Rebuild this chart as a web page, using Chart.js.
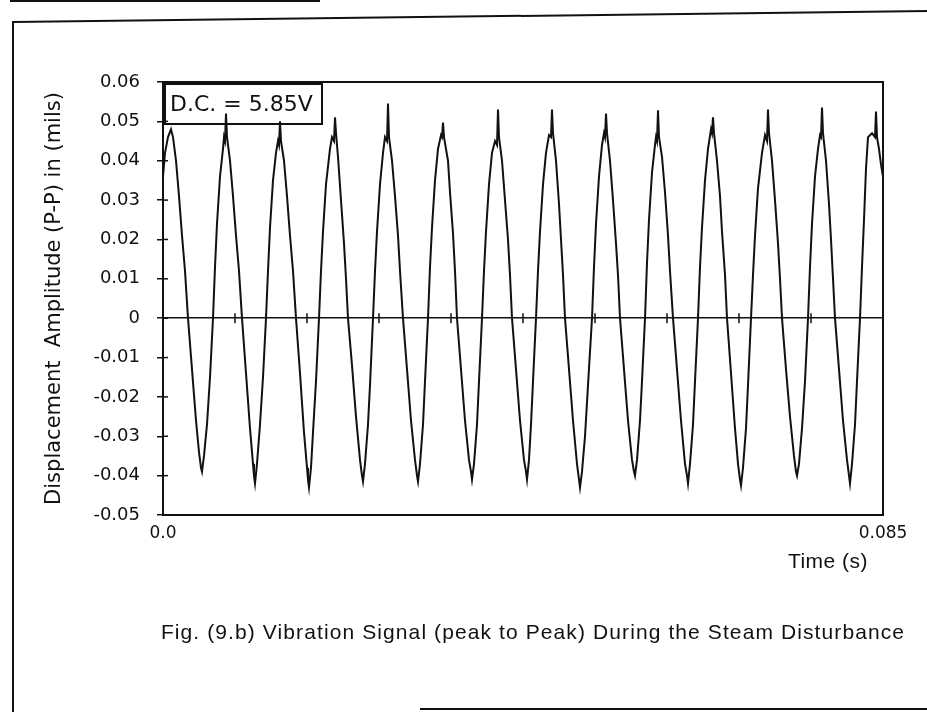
<!DOCTYPE html>
<html>
<head>
<meta charset="utf-8">
<script src="https://cdn.jsdelivr.net/npm/chart.js@4.4.0/dist/chart.umd.min.js"></script>
<style>
  html, body { margin: 0; padding: 0; background: #fff; }
  #page { position: relative; width: 927px; height: 712px; overflow: hidden; }
  #chart { position: absolute; left: 0; top: 0; }
  .rule { position: absolute; background: #111; }
</style>
</head>
<body>
<div id="page">
  <canvas id="chart" width="927" height="712"></canvas>
  <!-- page frame of the scanned figure -->
  <div class="rule" style="left:10px;top:0px;width:310px;height:2px"></div>
  <div class="rule" style="left:13px;top:21px;width:916px;height:2px;transform:rotate(-0.69deg);transform-origin:0 0"></div>
  <div class="rule" style="left:12px;top:21px;width:2px;height:700px"></div>
  <div class="rule" style="left:420px;top:708px;width:507px;height:2px"></div>
</div>

<script>
// time in milliseconds
const timeMs = [
  0, 0.236, 0.590, 0.944, 1.181,
  1.535, 1.889, 2.243, 2.597, 2.951,
  3.424, 3.896, 4.250, 4.486, 4.604,
  4.840, 5.194, 5.549, 5.903, 6.139, 6.375, 6.729, 7.083, 7.201, 7.319, 7.438, 7.556,
  7.910, 8.264, 8.618, 8.972, 9.326, 9.799, 10.271, 10.625, 10.743, 10.861,
  11.097, 11.451, 11.806, 12.160, 12.396, 12.632, 12.986, 13.340, 13.576, 13.694, 13.813, 13.931,
  14.285, 14.639, 14.993, 15.347, 15.701, 16.174, 16.646, 17.000, 17.118, 17.236,
  17.472, 17.708, 18.063, 18.417, 18.653, 18.889, 19.243, 19.715, 19.951, 20.188, 20.306, 20.424,
  20.660, 21.014, 21.368, 21.604, 21.840, 22.313, 22.785, 23.257, 23.493, 23.611,
  23.847, 24.201, 24.438, 24.792, 25.028, 25.264, 25.618, 25.972, 26.208, 26.445, 26.563, 26.681,
  27.035, 27.389, 27.743, 27.979, 28.333, 28.806, 29.278, 29.750, 29.986, 30.104,
  30.340, 30.695, 30.931, 31.285, 31.521, 31.757, 32.111, 32.465, 32.820, 32.938, 33.056, 33.174,
  33.646, 33.882, 34.236, 34.472, 34.708, 35.181, 35.653, 36.125, 36.361, 36.479,
  36.715, 37.070, 37.306, 37.660, 37.896, 38.132, 38.486, 38.840, 39.195, 39.431, 39.549, 39.667,
  40.021, 40.375, 40.729, 40.965, 41.202, 41.674, 42.146, 42.618, 42.854, 42.972,
  43.208, 43.445, 43.681, 44.035, 44.271, 44.507, 44.861, 45.215, 45.570, 45.806, 45.924, 46.042,
  46.396, 46.750, 46.986, 47.222, 47.459, 47.931, 48.403, 48.875, 49.111, 49.229,
  49.465, 49.820, 50.174, 50.646, 50.882, 51.118, 51.472, 51.827, 52.063, 52.181, 52.299, 52.417,
  52.771, 53.125, 53.479, 53.715, 53.952, 54.424, 54.896, 55.368, 55.604, 55.722,
  55.959, 56.313, 56.549, 56.903, 57.139, 57.375, 57.729, 58.084, 58.202, 58.320, 58.438, 58.556,
  58.910, 59.264, 59.618, 59.854, 60.209, 60.681, 61.153, 61.625, 61.861, 61.979,
  62.216, 62.570, 62.806, 63.160, 63.396, 63.632, 63.986, 64.341, 64.695, 64.813, 64.931, 65.049,
  65.403, 65.757, 65.993, 66.347, 66.584, 67.056, 67.528, 67.882, 68.118, 68.236,
  68.472, 68.827, 69.063, 69.417, 69.653, 69.889, 70.243, 70.716, 71.070, 71.306, 71.424, 71.542,
  71.896, 72.250, 72.604, 72.841, 73.077, 73.549, 74.021, 74.493, 74.729, 74.848,
  75.084, 75.438, 75.792, 76.146, 76.382, 76.618, 76.973, 77.327, 77.563, 77.681, 77.799, 77.917,
  78.271, 78.625, 78.861, 79.098, 79.334, 79.806, 80.278, 80.750, 80.986, 81.104,
  81.341, 81.695, 81.931, 82.285, 82.521, 82.757, 82.993, 83.229, 83.702, 84.056, 84.174, 84.292, 84.528, 84.764, 85.000
];

// displacement amplitude (mils)
const amplitude = [
  0.036, 0.042, 0.046, 0.048, 0.046,
  0.040, 0.031, 0.021, 0.012, 0.000,
  -0.013, -0.026, -0.034, -0.038, -0.039,
  -0.035, -0.027, -0.015, 0.000, 0.013, 0.024, 0.036, 0.043, 0.046, 0.045, 0.052, 0.046,
  0.040, 0.031, 0.021, 0.012, 0.000, -0.014, -0.028, -0.037, -0.040, -0.042,
  -0.037, -0.027, -0.015, 0.000, 0.012, 0.023, 0.035, 0.042, 0.045, 0.044, 0.050, 0.045,
  0.040, 0.031, 0.021, 0.012, 0.000, -0.014, -0.029, -0.038, -0.041, -0.043,
  -0.038, -0.029, -0.016, 0.000, 0.012, 0.022, 0.034, 0.043, 0.046, 0.045, 0.051, 0.047,
  0.041, 0.030, 0.019, 0.010, 0.000, -0.012, -0.025, -0.036, -0.040, -0.0415,
  -0.037, -0.027, -0.017, 0.000, 0.012, 0.022, 0.034, 0.042, 0.046, 0.045, 0.0545, 0.046,
  0.040, 0.031, 0.021, 0.012, 0.000, -0.013, -0.026, -0.036, -0.040, -0.0415,
  -0.037, -0.027, -0.016, 0.000, 0.013, 0.023, 0.035, 0.043, 0.0465, 0.046, 0.0497, 0.046,
  0.040, 0.032, 0.0215, 0.012, 0.000, -0.013, -0.026, -0.036, -0.039, -0.041,
  -0.037, -0.027, -0.016, 0.000, 0.012, 0.022, 0.034, 0.042, 0.045, 0.044, 0.053, 0.046,
  0.040, 0.030, 0.020, 0.011, 0.000, -0.013, -0.026, -0.036, -0.039, -0.041,
  -0.036, -0.027, -0.016, 0.000, 0.012, 0.022, 0.034, 0.042, 0.0465, 0.046, 0.053, 0.047,
  0.040, 0.029, 0.020, 0.011, 0.000, -0.013, -0.026, -0.037, -0.041, -0.043,
  -0.039, -0.030, -0.017, 0.000, 0.013, 0.024, 0.036, 0.044, 0.047, 0.046, 0.052, 0.047,
  0.040, 0.030, 0.019, 0.011, 0.000, -0.013, -0.026, -0.036, -0.039, -0.040,
  -0.036, -0.026, -0.016, 0.000, 0.014, 0.025, 0.037, 0.044, 0.046, 0.045, 0.0528, 0.046,
  0.041, 0.032, 0.021, 0.012, 0.000, -0.013, -0.026, -0.037, -0.040, -0.042,
  -0.037, -0.027, -0.016, 0.000, 0.013, 0.023, 0.035, 0.043, 0.048, 0.047, 0.051, 0.047,
  0.040, 0.031, 0.022, 0.011, 0.000, -0.014, -0.028, -0.037, -0.041, -0.0425,
  -0.038, -0.028, -0.017, 0.000, 0.011, 0.021, 0.033, 0.042, 0.0465, 0.045, 0.053, 0.047,
  0.040, 0.030, 0.019, 0.010, 0.000, -0.013, -0.025, -0.035, -0.039, -0.040,
  -0.037, -0.028, -0.016, 0.000, 0.013, 0.024, 0.036, 0.043, 0.0465, 0.046, 0.0535, 0.047,
  0.040, 0.029, 0.020, 0.010, 0.000, -0.013, -0.026, -0.036, -0.040, -0.042,
  -0.037, -0.027, -0.016, 0.000, 0.013, 0.025, 0.038, 0.046, 0.047, 0.046, 0.0525, 0.046, 0.043, 0.039, 0.036
];

const xTickLabels = ['0.0', '0.085'];
const xTitle = 'Time (s)';
const yTitle = 'Displacement  Amplitude (P-P) in (mils)';
const dcLabel = 'D.C. = 5.85V';
const caption = 'Fig. (9.b) Vibration Signal (peak to Peak) During the Steam Disturbance';

const points = timeMs.map((t, i) => ({x: t / 1000, y: amplitude[i]}));

const ink = '#111';

// frame, zero-line ticks, D.C. box and the figure texts
const figurePlugin = {
  id: 'figure',
  beforeDatasetsDraw(chart) {
    const {ctx, chartArea: a, scales: {x, y}} = chart;
    ctx.save();
    ctx.strokeStyle = ink;
    ctx.lineWidth = 2;
    ctx.strokeRect(a.left, a.top, a.right - a.left, a.bottom - a.top);

    ctx.lineWidth = 1.5;
    y.ticks.forEach(t => {
      const py = y.getPixelForValue(t.value);
      ctx.beginPath();
      ctx.moveTo(a.left, py);
      ctx.lineTo(a.left + 5, py);
      ctx.stroke();
    });
    const y0 = y.getPixelForValue(0);
    x.ticks.forEach((t, i) => {
      if (i === 0) return;
      const px = x.getPixelForValue(t.value);
      ctx.beginPath();
      ctx.moveTo(px, y0 - 5);
      ctx.lineTo(px, y0 + 5);
      ctx.stroke();
    });

    ctx.lineWidth = 2;
    ctx.strokeRect(a.left + 2, a.top + 2, 157, 40);
    ctx.fillStyle = ink;
    ctx.font = '22px "DejaVu Sans"';
    ctx.textAlign = 'left';
    ctx.textBaseline = 'middle';
    ctx.fillText(dcLabel, a.left + 7, a.top + 23);
    ctx.restore();
  },
  afterDraw(chart) {
    const {ctx, chartArea: a} = chart;
    ctx.save();
    ctx.fillStyle = ink;
    ctx.font = '21px "Liberation Sans"';
    ctx.textAlign = 'center';
    ctx.textBaseline = 'middle';
    ctx.letterSpacing = '0.5px';
    ctx.fillText(xTitle, a.right - 55, a.bottom + 47);
    ctx.letterSpacing = '1.1px';
    ctx.fillText(caption, (a.left + a.right) / 2 + 10, a.bottom + 118);
    ctx.restore();
  }
};

new Chart(document.getElementById('chart'), {
  type: 'line',
  data: {
    datasets: [{
      data: points,
      borderColor: ink,
      borderWidth: 2,
      pointRadius: 0,
      tension: 0,
      fill: false
    }]
  },
  options: {
    responsive: false,
    animation: false,
    layout: {padding: {left: 0, top: 82, right: 44, bottom: 0}},
    plugins: {
      legend: {display: false},
      tooltip: {enabled: false}
    },
    scales: {
      x: {
        type: 'linear',
        min: 0,
        max: 0.085,
        afterFit(scale) { scale.height = 197; },
        ticks: {
          stepSize: 0.0085,
          autoSkip: false,
          maxRotation: 0,
          padding: 8,
          color: ink,
          font: {family: 'DejaVu Sans', size: 17},
          callback: (v, i, ticks) => i === 0 ? xTickLabels[0] : (i === ticks.length - 1 ? xTickLabels[1] : '')
        },
        grid: {display: false, drawTicks: false},
        border: {display: true, color: ink, width: 2}
      },
      y: {
        min: -0.05,
        max: 0.06,
        afterFit(scale) { scale.width = 163; },
        ticks: {
          stepSize: 0.01,
          padding: 17,
          color: ink,
          font: {family: 'DejaVu Sans', size: 18},
          callback: v => Math.abs(v) < 1e-9 ? '0' : v.toFixed(2)
        },
        grid: {
          color: c => (c.tick && Math.abs(c.tick.value) < 1e-9) ? ink : 'rgba(0,0,0,0)',
          lineWidth: 1.5,
          tickColor: ink,
          tickLength: 6,
          drawTicks: true
        },
        border: {display: true, color: ink, width: 2},
        title: {
          display: true,
          text: yTitle,
          color: ink,
          font: {family: 'DejaVu Sans', size: 21},
          padding: {top: 42, bottom: 0}
        }
      }
    }
  },
  plugins: [figurePlugin]
});
</script>
</body>
</html>
